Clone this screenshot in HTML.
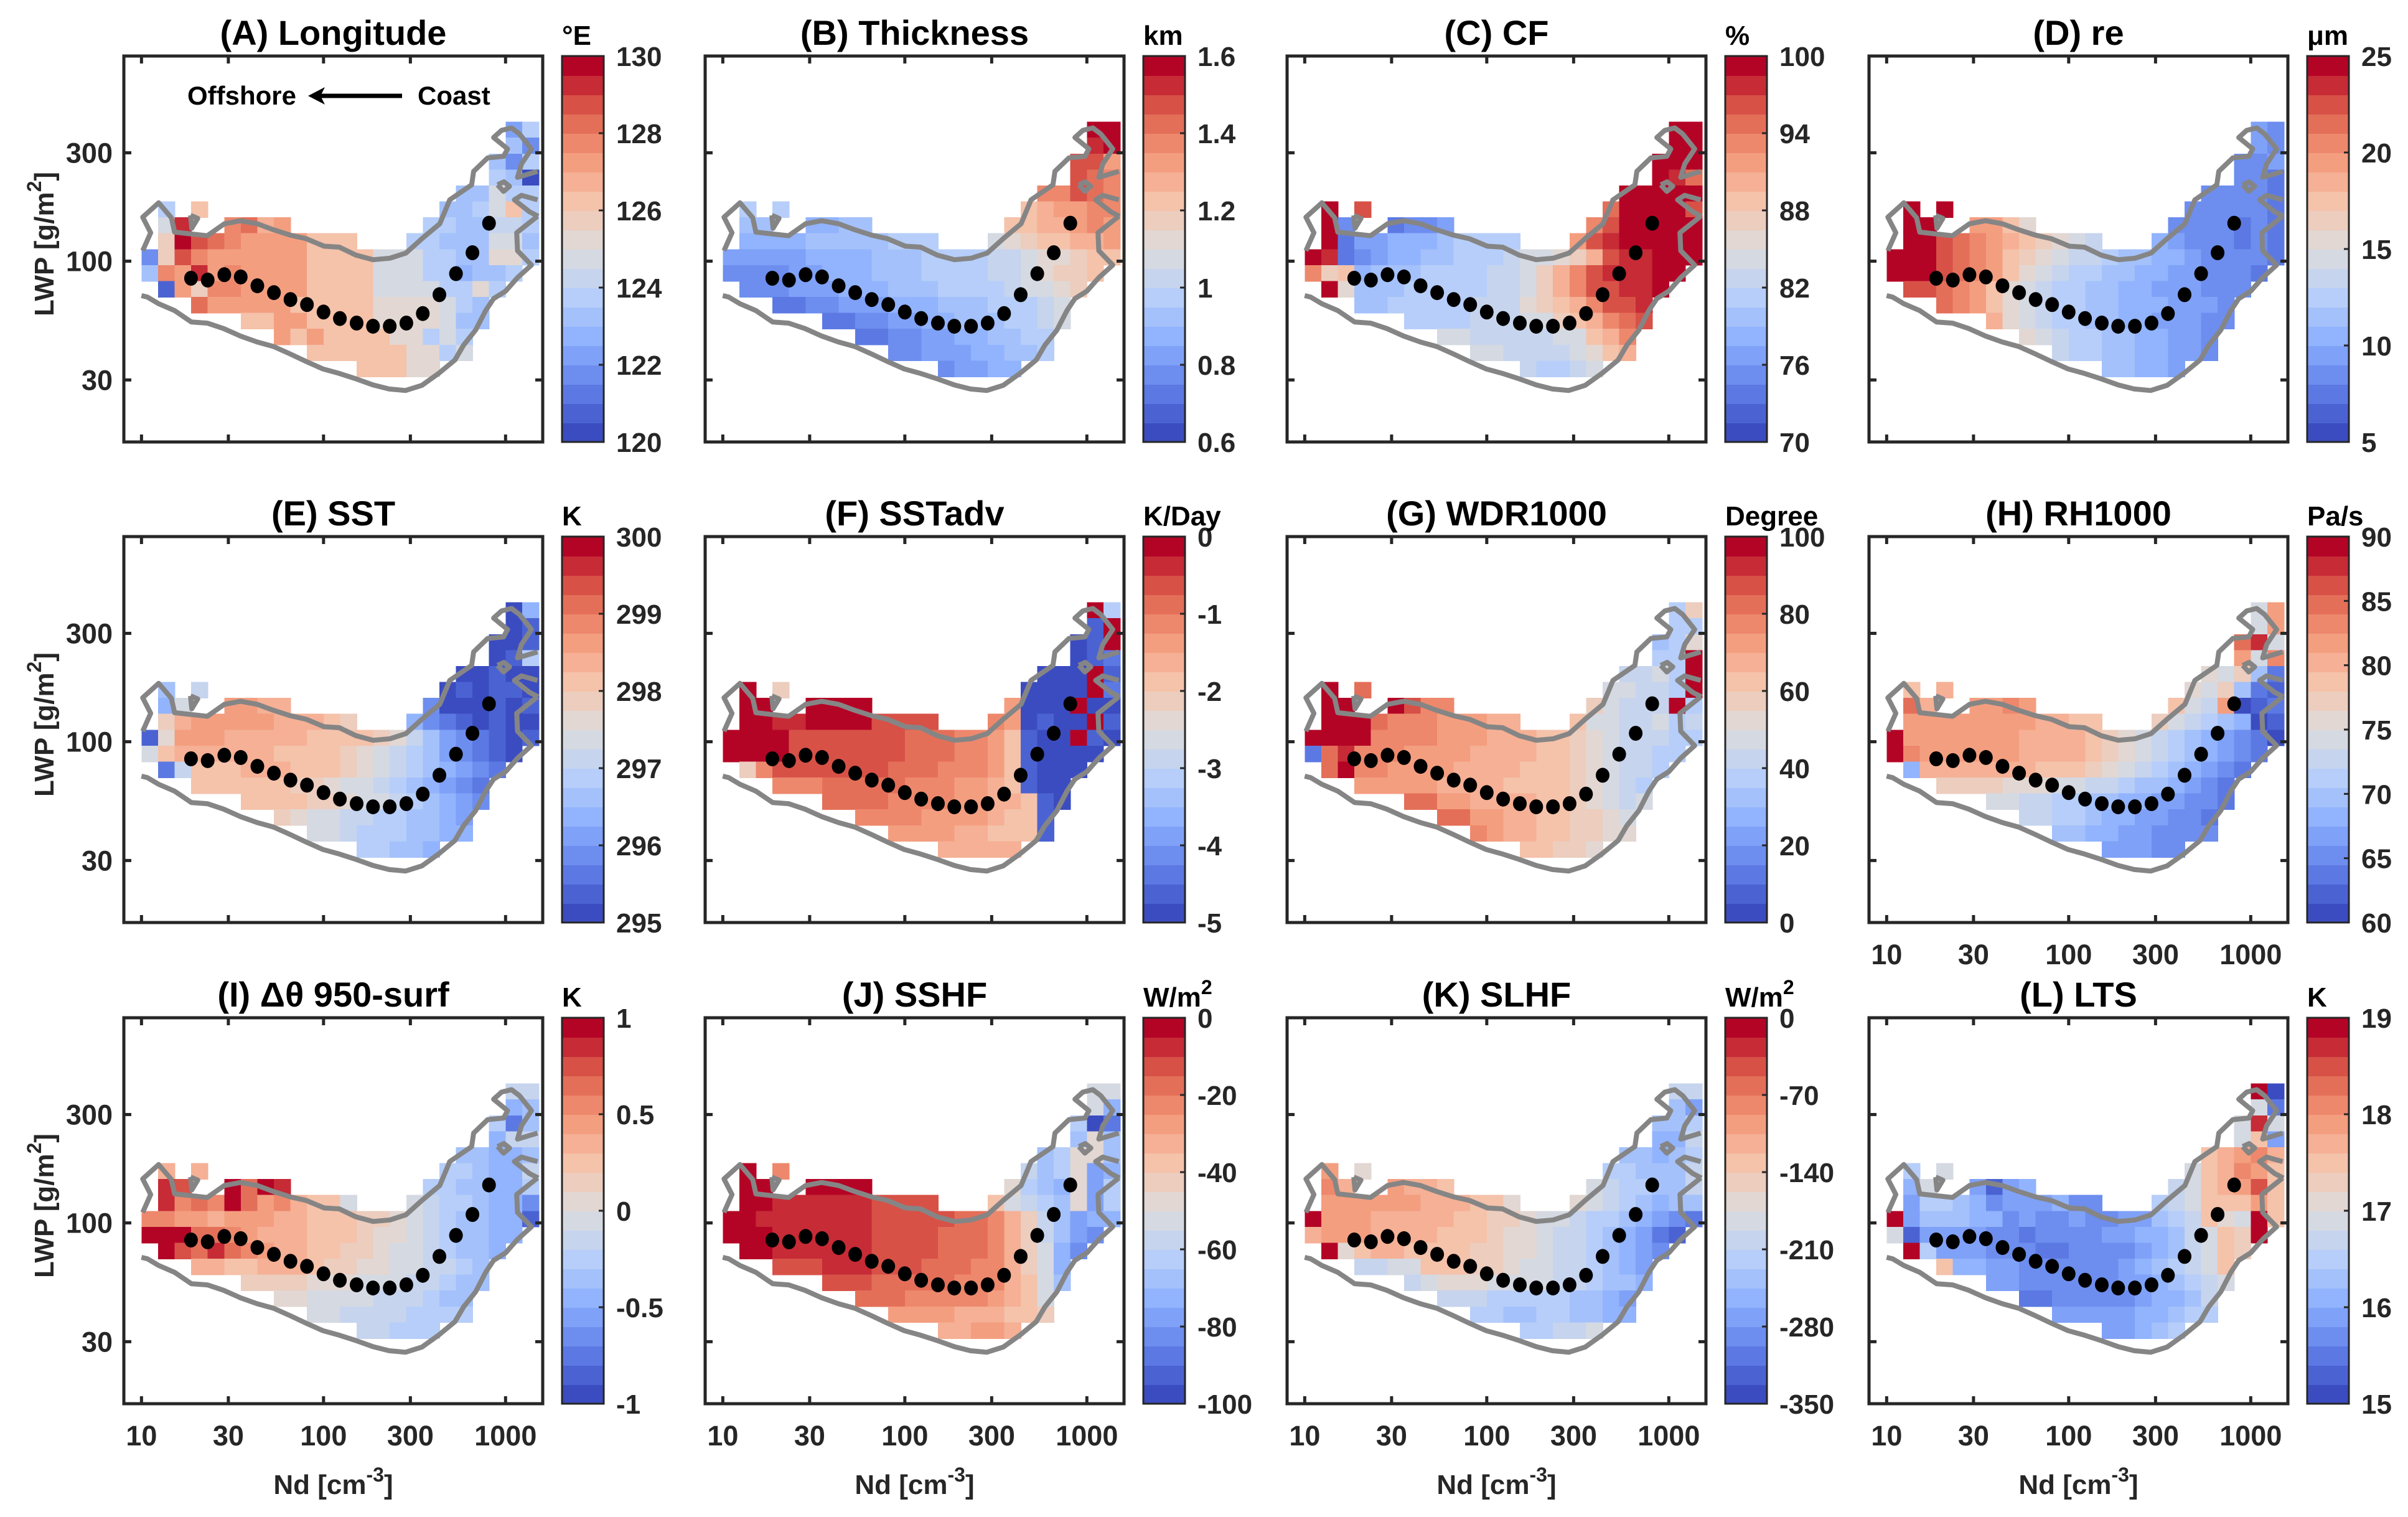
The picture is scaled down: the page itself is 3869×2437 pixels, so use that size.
<!DOCTYPE html>
<html><head><meta charset="utf-8"><style>
html,body{margin:0;padding:0;background:#fff;}
svg{display:block;font-family:"Liberation Sans",Arial,sans-serif;font-weight:bold;}
</style></head><body>
<svg id="fig" xmlns="http://www.w3.org/2000/svg" width="3869" height="2437" viewBox="0 0 3869 2437"></svg>
<script>
// ---- data ----
const ndMean=[18.7,23.1,28.5,35.1,43.3,53.4,65.8,81.1,100,123,152,187,231,285,351,433,534,658,811];
const lwpMean=[84.1,82.6,87.2,85.2,77.9,72.7,67.8,64.4,59.7,55.9,53.4,51.7,51.7,53.4,58.8,71.2,88.1,108.9,146.9];
const xTicks=[10,30,100,300,1000];
const xTickLabels=["10","30","100","300","1000"];
const yTicks=[30,100,300];
const yTickLabels=["30","100","300"];
const gridA=["......................47","......................63",".....................637",".....................760","...................66977",".7.c..............6679c7",".9i..fgde........7766887",".bjhgfeeeeccc...77666996","3bhfeeeeeecccc9997766aa7","6feiefeeeecccc999775667.",".1ebffeeeecccc999977a7..","...geeeeecccccaaaa976...","......cceeccccaaaa966...","........ececcccaa797....","..........ccccccaa79....",".............cccaa......"];
const gridB=["......................jj","......................ij",".....................hhe",".....................hgf","...................ffhgf",".7.7..............cdeeff",".66..5566........ccddefe",".555566666777...9abccdde","4444455556667777889aabcc","3333445556667777889abbc.",".3334445556667777899ab..","...223344455566677789...","......223344556667789...","........223344556677....","..........3344455667....",".............34455......"];
const gridC=["......................jj","......................jj",".....................jjj",".....................jig","...................jjjjj",".j.h..............gjjjjh",".j3..2334........fhjjjjj",".j24455567777...ehijjjjj","ji2345566777899abdhiijjj","fbc56667777889bdfhiiijj.",".ja66677777889bdfhhiij..","...6677777888abcdfhhi...","......777788899bcdfgh...","........998888899cdf....","..........9988889acd....",".............87789......"];
const gridD=["......................43","......................43",".....................334",".....................332","...................33332",".j.j..............333332",".jj..eeca........3333232",".jjhgfedcba98...54333232","jjjhgfecba98876655433332","jjjhgfeca98776655443332.",".hhgfeca98776655444333..","...gfeca9877665554443...","......da9877665544433...","........a98776655443....","..........8776655443....",".............66554......"];
const gridE=["......................05","......................01",".....................001",".....................017","...................00100",".6.8..............010110",".59..eedd........3000101",".bdeeeeedddcb...53210100","1aeeedddddccccba86432101","9cddddddccccba987643210.",".28cccdddcccba98765432..","...ccccccbba998765432...","......ccccbba99876543...","........ba9988776654....","..........9987776655....",".............77665......"];
const gridF=["......................j7","......................1j",".....................01j",".....................012","...................000j1",".j.b..............0000j2",".jj..jjjj........e000j00",".jjiijjjjhhhh...fe0100j1","jjjjhhhhhhhgggffec100j10","jjjjhhhhhhhgggffec10000.",".bfhhhhhhhgggfffec1000..","...fffgggggfffeedc100...","......ggggffffeeddc10...","........ffffeeeedcc1....","..........eeeeddccc1....",".............ddddd......"];
const gridG=["......................7b","......................77",".....................67a",".....................77j","...................8897j",".j.g..............99887j",".jj..jhff........b9888j7",".jjjgfffeeedd...c9988978","jjjjffffeeedddccba988877","2gifffeeeeddddccba98877.",".gjffeeeeddddcccba9887..","...eeeeeddddccccba987...","......ggeeddddccba989...","........ggeeddccbba9....","..........feddccbbaa....",".............ccbba......"];
const gridH=["......................9e","......................9e",".....................gi9",".....................e9f","...................a9b62",".c.d..............a9b621",".gd..eefe........c98e012",".eeeeeeeeddcc...b9876501","jeeeeeeeddddcba987654320","jfeeeeeeddddcba98765432.",".5dddddddcccba98765432..","...bbbbaaa99887665432...","......998877665544332...","........887765544332....","..........6655443333....",".............44433......"];
const gridI=["......................88","......................56",".....................726",".....................588","...................66556",".d.d..............776558",".ih..jgji........7766557",".ifgfjgefdcc9...98776553","ffeedeeeddcccbba98766551","jjjggfedddcccbaa9876655.",".jhgigfeddccbba9987665..","...ddccdddcbbaa998876...","......bbbbaaa99988766...","........aa9999888766....","..........9988887777....",".............88777......"];
const gridJ=["......................99","......................95",".....................702",".....................6a6","...................67aa6",".j.f..............867a45",".jj..jjjj........a765a47",".jjiiiiiihhhh...c9876a47","jjiiiiiiihhhhhggfdb86455","jjjiiiiiihhhhgggfdb8643.",".jjiiiiiihhhhgggfdb953..","...hhhiiihhhgggffdb95...","......hhhgggggfffdc96...","........gggfffffedc9....","..........eeeedddccb....",".............ddeed......"];
const gridK=["......................88","......................64",".....................667",".....................558","...................66567",".e.a..............776668",".fd..eddc........9877668",".eeeeeedddcca...a9876566","jeeedddddccbba9987765432","deeeddddcccbaa988765421.",".jacddccccbbaa98876543..","...8899cccbba99887654...","......89aaa9999887665...","........888777776654....","..........7766776655....",".............77889......"];
const gridL=["......................j0","......................92",".....................9i9",".....................9c4","...................cdefd",".7.9..............9cdfec",".59..4145........89cdehc",".477653444533...789cccec","j466655343343344678ca9jc","91444433233334455689cbj.",".j744433322333345689cb..","...c5544333333456789c...","......443333334456789...","........223333345568....","..........4444455677....",".............44567......"];
const titles=["(A) Longitude","(B) Thickness","(C) CF","(D) re","(E) SST","(F) SSTadv","(G) WDR1000","(H) RH1000","(I) \u0394\u03b8 950-surf","(J) SSHF","(K) SLHF","(L) LTS"];
const units=["\u00b0E","km","%","\u03bcm","K","K/Day","Degree","Pa/s","K","W/m\u00b2","W/m\u00b2","K"];
const cbMin=[120,0.6,70,5,295,-5,0,60,-1,-100,-350,15];
const cbMax=[130,1.6,100,25,300,0,100,90,1,0,0,19];
const cbTicks=[[120,122,124,126,128,130],[0.6,0.8,1,1.2,1.4,1.6],[70,76,82,88,94,100],[5,10,15,20,25],[295,296,297,298,299,300],[-5,-4,-3,-2,-1,0],[0,20,40,60,80,100],[60,65,70,75,80,85,90],[-1,-0.5,0,0.5,1],[-100,-80,-60,-40,-20,0],[-350,-280,-210,-140,-70,0],[15,16,17,18,19]];
// contour traced in reference-template units (converted to log10 data space below)
const contourLower=[[357,980],[372,985],[400,1007],[440,1030],[482,1068],[522,1072],[563,1090],[605,1115],[647,1135],[688,1150],[730,1175],[770,1200],[812,1225],[853,1240],[895,1258],[937,1278],[978,1292],[1019,1297],[1060,1280],[1102,1240],[1143,1195],[1165,1145],[1195,1095],[1220,1030],[1240,990],[1270,965],[1300,920],[1335,878],[1300,830],[1298,770],[1350,715]];
const contourMid=[[1350,660],[1310,645],[1292,660],[1330,700],[1352,715]];
const contourUpper=[[1350,565],[1300,585],[1310,540],[1335,490],[1305,440],[1285,420],[1260,428],[1240,452],[1275,490],[1265,515],[1225,520],[1190,565],[1185,610],[1130,660],[1105,740],[1060,790],[1020,838],[980,855],[938,860],[895,845],[853,818],[815,815],[770,790],[730,778],[688,760],[647,740],[605,730],[565,740],[522,780],[440,768],[432,720],[400,670],[360,718],[380,770],[360,830]];
const contourLoop1=[[480,712],[498,722],[483,755],[480,712]];
const contourLoop2=[[1250,610],[1266,600],[1280,615],[1265,632],[1250,610]];

// ---- layout ----
const grids=[gridA,gridB,gridC,gridD,gridE,gridF,gridG,gridH,gridI,gridJ,gridK,gridL];
const names="abcdefghijkl".split("");
const colLeft=[199,1133,2068,3003], rowTop=[90,862,1635];
const W=673,H=620,CBOFF=704,CBW=67;
const xMinL=Math.log10(8),xMaxL=Math.log10(1600),yMinL=Math.log10(16),yMaxL=Math.log10(800);
const cellX0=1,cellDX=1/11,cellY0=1.492,cellDY=0.0701;
function xs(l,px){return px+(l-xMinL)/(xMaxL-xMinL)*W;}
function ys(l,py){return py+H-(l-yMinL)/(yMaxL-yMinL)*H;}
function tplX(zx){return 1+(zx-357)/456.5;}
function tplY(zy){return 2-(zy-865)/758.8;}
const anchors=[[59,76,192],[98,130,234],[141,176,254],[184,208,249],[221,220,220],[245,196,173],[244,154,123],[222,96,77],[180,4,38]];
function cmap(k){const t=k/19*8;const i=Math.min(7,Math.floor(t));const f=t-i;const a=anchors[i],b=anchors[i+1];
 return "rgb("+[0,1,2].map(j=>Math.round(a[j]+(b[j]-a[j])*f)).join(",")+")";}
const NS="http://www.w3.org/2000/svg";
const svg=document.getElementById("fig");
function mk(tag,attrs,parent){const e=document.createElementNS(NS,tag);for(const k in attrs)e.setAttribute(k,attrs[k]);(parent||svg).appendChild(e);return e;}
function fmt(v){return String(v);}

for(let p=0;p<12;p++){
 const col=p%4,row=Math.floor(p/4);const px=colLeft[col],py=rowTop[row];
 const g=mk("g",{});
 
 
 const cg=mk("g",{"shape-rendering":"crispEdges"},g);
 
 
 const grid=grids[p];
 for(let r=0;r<grid.length;r++){
  const yb=cellY0+(15-r)*cellDY, yt=yb+cellDY;
  for(let c=0;c<grid[r].length;c++){
   const ch=grid[r][c]; if(ch==='.')continue;
   const lv=parseInt(ch,36);
   const x0=xs(cellX0+c*cellDX,px),x1=xs(cellX0+(c+1)*cellDX,px);
   const y0=ys(yt,py),y1=ys(yb,py);
   const rc=mk("rect",{x:x0.toFixed(1),y:y0.toFixed(1),width:(x1-x0+0.8).toFixed(1),height:(y1-y0+0.8).toFixed(1),fill:cmap(lv)},cg);
   
   
  }
 }
 [contourLower,contourMid,contourUpper,contourLoop1,contourLoop2].forEach(pts=>{
  const d=pts.map((q,i)=>(i?"L":"M")+xs(tplX(q[0]),px).toFixed(1)+","+ys(tplY(q[1]),py).toFixed(1)).join(" ");
  const pe=mk("path",{d:d,fill:"none",stroke:"#858585","stroke-width":8,"stroke-linejoin":"round"},g);
  
  
 });
 for(let i=0;i<ndMean.length;i++){
  const c=mk("ellipse",{cx:xs(Math.log10(ndMean[i]),px).toFixed(1),cy:ys(Math.log10(lwpMean[i]),py).toFixed(1),rx:11,ry:12,fill:"#000"},g);
  
  
 }
 const bx=mk("rect",{x:px,y:py,width:W,height:H,fill:"none",stroke:"#262626","stroke-width":5},g);
 
 
 xTicks.forEach((v,i)=>{
  const x=xs(Math.log10(v),px);
  mk("line",{x1:x,x2:x,y1:py+H,y2:py+H-12,stroke:"#262626","stroke-width":5},g);
  mk("line",{x1:x,x2:x,y1:py,y2:py+12,stroke:"#262626","stroke-width":5},g);
  if(row===2||p===7){
   const t=mk("text",{x:x,y:py+H+67,"font-size":45,"text-anchor":"middle",fill:"#262626"},g);
   t.textContent=xTickLabels[i];
   
   
  }
 });
 yTicks.forEach((v,i)=>{
  const y=ys(Math.log10(v),py);
  mk("line",{x1:px,x2:px+12,y1:y,y2:y,stroke:"#262626","stroke-width":5},g);
  mk("line",{x1:px+W,x2:px+W-12,y1:y,y2:y,stroke:"#262626","stroke-width":5},g);
  if(col===0){
   const t=mk("text",{x:px-18,y:y+16,"font-size":45,"text-anchor":"end",fill:"#262626"},g);
   t.textContent=yTickLabels[i];
   
   
  }
 });
 const tt=mk("text",{x:px+W/2,y:py-18,"font-size":56,"text-anchor":"middle",fill:"#000"},g);
 tt.textContent=titles[p];
 
 
 const cx=px+CBOFF;
 const cb=mk("g",{"shape-rendering":"crispEdges"},g);
 
 
 for(let k=0;k<20;k++){
  mk("rect",{x:cx,y:(py+H-(k+1)*H/20).toFixed(1),width:CBW,height:(H/20+0.8).toFixed(1),fill:cmap(k)},cb);
 }
 mk("rect",{x:cx,y:py,width:CBW,height:H,fill:"none",stroke:"#262626","stroke-width":3},g);
 cbTicks[p].forEach(v=>{
  const y=py+H-(v-cbMin[p])/(cbMax[p]-cbMin[p])*H;
  mk("line",{x1:cx+CBW,x2:cx+CBW-8,y1:y,y2:y,stroke:"#262626","stroke-width":3},g);
  const t=mk("text",{x:cx+CBW+20,y:y+16,"font-size":44,fill:"#262626"},g);
  t.textContent=fmt(v);
  
  
 });
 const u=mk("text",{x:cx,y:py-18,"font-size":44,fill:"#000"},g);
 const um=units[p].match(/^(.*)\u00b2$/);
 if(um){u.textContent=um[1];const s=mk("tspan",{dy:-20,"font-size":32},u);s.textContent="2";}
 else u.textContent=units[p];
 
 
 if(col===0){
  const yl=mk("text",{x:0,y:0,"font-size":44,"text-anchor":"middle",transform:"translate(86,"+(py+H/2-8)+") rotate(-90)",fill:"#262626"},g);
  yl.textContent="LWP [g/m";
  const s=mk("tspan",{dy:-20,"font-size":32},yl);s.textContent="2";
  const s2=mk("tspan",{dy:20},yl);s2.textContent="]";
  
  
 }
 if(row===2){
  const xl=mk("text",{x:px+W/2,y:py+H+145,"font-size":44,"text-anchor":"middle",fill:"#262626"},g);
  xl.textContent="Nd [cm";
  const s=mk("tspan",{dy:-20,"font-size":32},xl);s.textContent="-3";
  const s2=mk("tspan",{dy:20},xl);s2.textContent="]";
  
  
 }
}
const a1=mk("text",{x:301,y:168,"font-size":42,fill:"#000"});
a1.textContent="Offshore";


const a2=mk("text",{x:671,y:168,"font-size":42,fill:"#000"});
a2.textContent="Coast";


const ar=mk("g",{});


mk("line",{x1:646,y1:154,x2:505,y2:154,stroke:"#000","stroke-width":7},ar);
mk("path",{d:"M495,154 L522,140 L515,154 L522,168 Z",fill:"#000"},ar);
</script>
</body></html>
